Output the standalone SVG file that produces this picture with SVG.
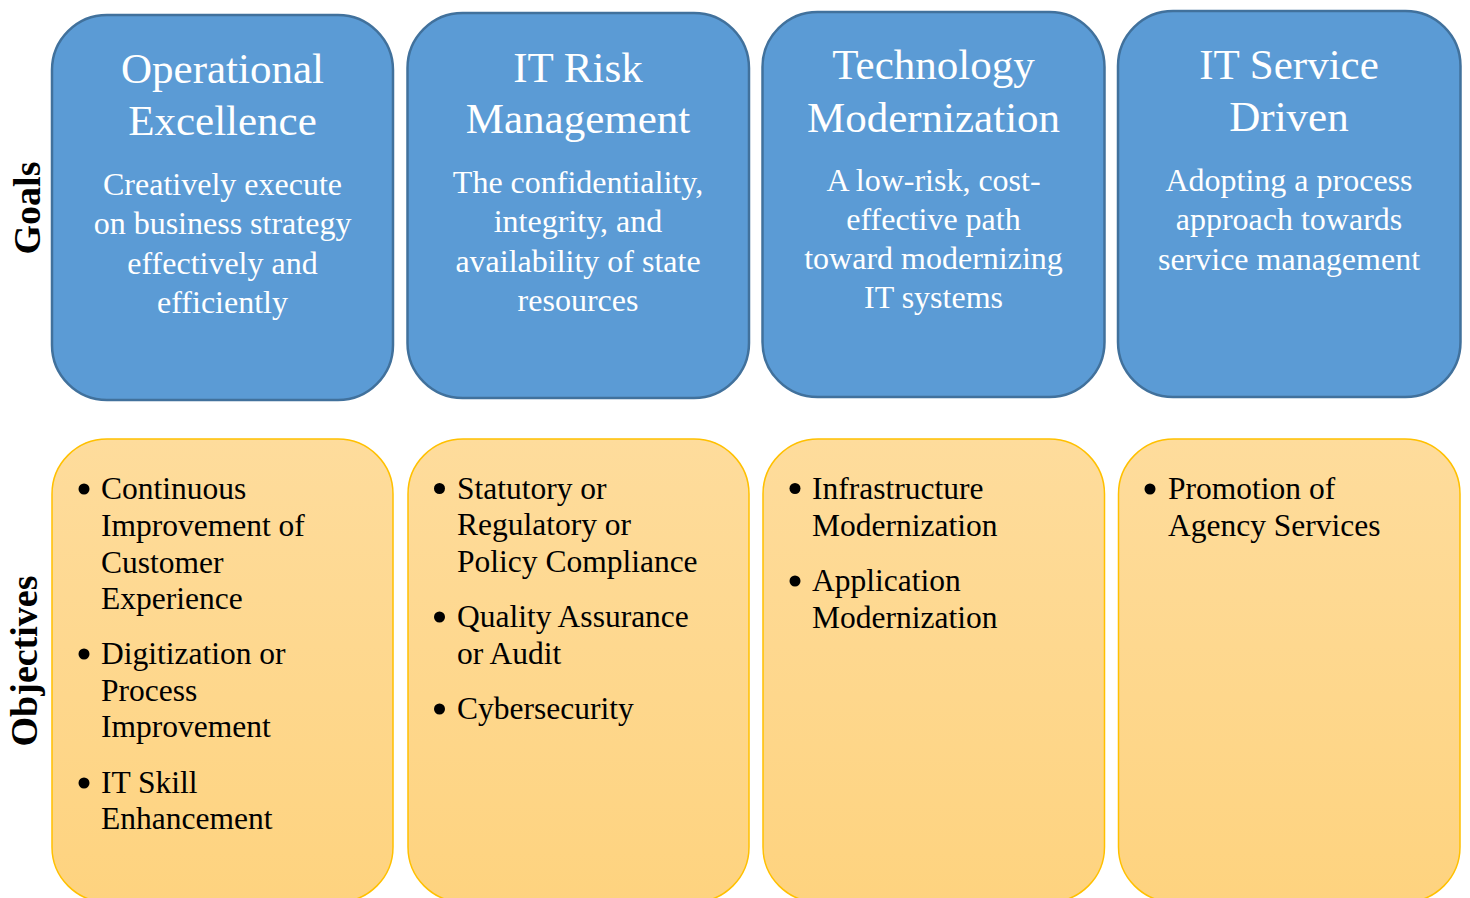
<svg xmlns="http://www.w3.org/2000/svg" width="1470" height="898" viewBox="0 0 1470 898">
  <defs>
    <linearGradient id="og" x1="0" y1="0" x2="0" y2="1">
      <stop offset="0" stop-color="#FEDC9C"/>
      <stop offset="1" stop-color="#FED37F"/>
    </linearGradient>
    <style>
      .goal { fill: #5B9BD5; stroke: #41719C; stroke-width: 2.5; }
      .obj { fill: url(#og); stroke: #FFC000; stroke-width: 1.5; }
      .title { font-family: "Liberation Serif", "Times New Roman", serif; font-size: 43px; fill: #FFFFFF; text-anchor: middle; }
      .body { font-family: "Liberation Serif", "Times New Roman", serif; font-size: 32px; fill: #FFFFFF; text-anchor: middle; }
      .item { font-family: "Liberation Serif", "Times New Roman", serif; font-size: 31.5px; fill: #000000; }
      .side { font-family: "Liberation Serif", "Times New Roman", serif; font-size: 38px; font-weight: bold; fill: #000000; text-anchor: middle; }
      .dot { fill: #000000; }
    </style>
  </defs>
  <rect width="1470" height="898" fill="#FFFFFF"/>

  <g id="label-goals">
    <text class="side" transform="translate(40,208) rotate(-90)">Goals</text>
  </g>
  <g id="label-objectives">
    <text class="side" transform="translate(37,661) rotate(-90)">Objectives</text>
  </g>

  <g id="goal-operational-excellence">
    <rect class="goal" x="52" y="15" width="341" height="385" rx="55" ry="55"/>
    <text class="title" x="222.5" y="83">Operational</text>
    <text class="title" x="222.5" y="135">Excellence</text>
    <text class="body" x="222.5" y="195">Creatively execute</text>
    <text class="body" x="222.5" y="234">on business strategy</text>
    <text class="body" x="222.5" y="274">effectively and</text>
    <text class="body" x="222.5" y="313">efficiently</text>
  </g>

  <g id="goal-it-risk-management">
    <rect class="goal" x="407.5" y="13" width="341.5" height="385" rx="55" ry="55"/>
    <text class="title" x="578" y="82">IT Risk</text>
    <text class="title" x="578" y="133">Management</text>
    <text class="body" x="578" y="193">The confidentiality,</text>
    <text class="body" x="578" y="232">integrity, and</text>
    <text class="body" x="578" y="272">availability of state</text>
    <text class="body" x="578" y="311">resources</text>
  </g>

  <g id="goal-technology-modernization">
    <rect class="goal" x="762.5" y="12" width="342" height="385" rx="55" ry="55"/>
    <text class="title" x="933.5" y="79">Technology</text>
    <text class="title" x="933.5" y="132">Modernization</text>
    <text class="body" x="933.5" y="191">A low-risk, cost-</text>
    <text class="body" x="933.5" y="230">effective path</text>
    <text class="body" x="933.5" y="269">toward modernizing</text>
    <text class="body" x="933.5" y="308">IT systems</text>
  </g>

  <g id="goal-it-service-driven">
    <rect class="goal" x="1118" y="11" width="342.5" height="386" rx="55" ry="55"/>
    <text class="title" x="1289" y="79">IT Service</text>
    <text class="title" x="1289" y="131">Driven</text>
    <text class="body" x="1289" y="191">Adopting a process</text>
    <text class="body" x="1289" y="230">approach towards</text>
    <text class="body" x="1289" y="270">service management</text>
  </g>

  <g id="objectives-operational-excellence">
    <rect class="obj" x="52" y="439" width="341" height="463" rx="55" ry="55"/>
    <circle class="dot" cx="84" cy="489" r="5.5"/>
    <text class="item" x="101" y="499">Continuous</text>
    <text class="item" x="101" y="536">Improvement of</text>
    <text class="item" x="101" y="573">Customer</text>
    <text class="item" x="101" y="609">Experience</text>
    <circle class="dot" cx="84" cy="654" r="5.5"/>
    <text class="item" x="101" y="664">Digitization or</text>
    <text class="item" x="101" y="701">Process</text>
    <text class="item" x="101" y="737">Improvement</text>
    <circle class="dot" cx="84" cy="783" r="5.5"/>
    <text class="item" x="101" y="793">IT Skill</text>
    <text class="item" x="101" y="829">Enhancement</text>
  </g>

  <g id="objectives-it-risk-management">
    <rect class="obj" x="408" y="439" width="341" height="463" rx="55" ry="55"/>
    <circle class="dot" cx="439.5" cy="488.5" r="5.5"/>
    <text class="item" x="457" y="498.5">Statutory or</text>
    <text class="item" x="457" y="535">Regulatory or</text>
    <text class="item" x="457" y="571.5">Policy Compliance</text>
    <circle class="dot" cx="439.5" cy="617" r="5.5"/>
    <text class="item" x="457" y="627">Quality Assurance</text>
    <text class="item" x="457" y="663.5">or Audit</text>
    <circle class="dot" cx="439.5" cy="709" r="5.5"/>
    <text class="item" x="457" y="719">Cybersecurity</text>
  </g>

  <g id="objectives-technology-modernization">
    <rect class="obj" x="763" y="439" width="341.5" height="463" rx="55" ry="55"/>
    <circle class="dot" cx="795" cy="488.5" r="5.5"/>
    <text class="item" x="812" y="498.5">Infrastructure</text>
    <text class="item" x="812" y="535.5">Modernization</text>
    <circle class="dot" cx="795" cy="581" r="5.5"/>
    <text class="item" x="812" y="591">Application</text>
    <text class="item" x="812" y="628">Modernization</text>
  </g>

  <g id="objectives-it-service-driven">
    <rect class="obj" x="1118.5" y="439" width="341.5" height="463" rx="55" ry="55"/>
    <circle class="dot" cx="1150" cy="489" r="5.5"/>
    <text class="item" x="1168" y="499">Promotion of</text>
    <text class="item" x="1168" y="536">Agency Services</text>
  </g>

  <g id="connectors"/>
</svg>
